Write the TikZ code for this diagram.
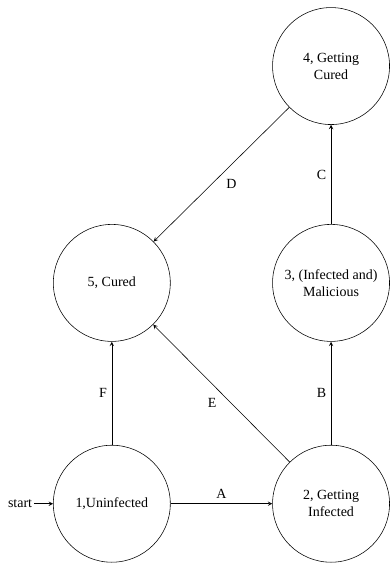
\documentclass[tikz,border=0pt]{standalone}
\usepackage{fontspec}
\setmainfont{Liberation Serif}
\usetikzlibrary{arrows,positioning}

\begin{document}
\begin{tikzpicture}[>=stealth, auto,
    statebox/.style={draw, circle, minimum size=2.94cm, align=center, inner sep=0pt},
    every edge/.style={draw, ->}]
    \useasboundingbox (0,0) rectangle (9.8,-14.2);
    \node[statebox] (q1) at (2.81,-12.66) {1,Uninfected};
    \node[statebox] (q2) at (8.32,-12.66) {2, Getting\\Infected};
    \node[statebox] (q3) at (8.32,-7.11) {3, (Infected and)\\Malicious};
    \node[statebox] (q4) at (8.32,-1.66) {4, Getting\\Cured};
    \node[statebox] (q5) at (2.81,-7.11) {5, Cured};
    \node[left=3ex of q1, inner sep=1pt] (start) {start};
    \draw[->] (start) -- (q1);
    \path (q1) edge node {A} (q2)
          (q2) edge node {B} (q3)
          (q3) edge node {C} (q4)
          (q4) edge node {D} (q5)
          (q2) edge node {E} (q5)
          (q1) edge node {F} (q5);
\end{tikzpicture}
\end{document}
